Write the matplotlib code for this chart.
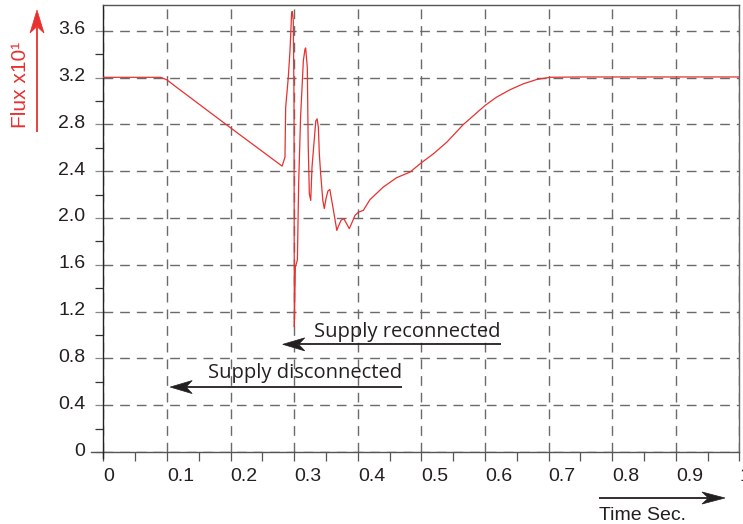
import numpy as np
import matplotlib
matplotlib.use("Agg")
import matplotlib.pyplot as plt
import matplotlib.transforms as mtransforms
from matplotlib.patches import Polygon
from matplotlib.lines import Line2D

# ---------------- data ----------------
time = [0.0, 0.09, 0.1, 0.115, 0.2, 0.281, 0.2855, 0.2866, 0.2907, 0.2934, 0.296, 0.297,
        0.2986, 0.2997, 0.3, 0.3002, 0.3018, 0.305, 0.307, 0.31, 0.3144, 0.317, 0.318,
        0.3206, 0.322, 0.3238, 0.326, 0.328, 0.331, 0.334, 0.336, 0.338, 0.3395, 0.3416,
        0.345, 0.3473, 0.35, 0.353, 0.356, 0.359, 0.3626, 0.367, 0.369, 0.3736, 0.378,
        0.3825, 0.3866, 0.390, 0.3956, 0.401, 0.4087, 0.419, 0.44, 0.461, 0.482, 0.5,
        0.519, 0.54, 0.566, 0.582, 0.6, 0.618, 0.639, 0.66, 0.681, 0.702, 0.75, 0.85, 1.0]
flux = [3.202, 3.202, 3.18, 3.117, 2.77, 2.443, 2.52, 2.946, 3.2, 3.43, 3.757, 3.765,
        3.686, 3.0, 1.86, 1.069, 1.58, 1.64, 2.29, 2.86, 3.345, 3.444, 3.453,
        3.288, 2.634, 2.207, 2.15, 2.434, 2.634, 2.83, 2.847, 2.776, 2.549, 2.378,
        2.15, 2.08, 2.165, 2.23, 2.244, 2.15, 2.037, 1.894, 1.922, 1.98, 1.994,
        1.95, 1.909, 1.95, 2.022, 2.05, 2.065, 2.156, 2.264, 2.344, 2.392, 2.472,
        2.549, 2.648, 2.799, 2.875, 2.961, 3.032, 3.095, 3.146, 3.183, 3.202, 3.205, 3.205, 3.205]

x_ticks = [0.0, 0.1, 0.2, 0.3, 0.4, 0.5, 0.6, 0.7, 0.8, 0.9, 1.0]
x_tick_labels = ["0", "0.1", "0.2", "0.3", "0.4", "0.5", "0.6", "0.7", "0.8", "0.9", "1"]
y_ticks = [0.0, 0.4, 0.8, 1.2, 1.6, 2.0, 2.4, 2.8, 3.2, 3.6]
y_tick_labels = ["0", "0.4", "0.8", "1.2", "1.6", "2.0", "2.4", "2.8", "3.2", "3.6"]

RED = "#e8302f"
INK = "#231f20"
W_PX, H_PX = 743, 524

fig = plt.figure(figsize=(W_PX / 100, H_PX / 100), dpi=100)
ax = fig.add_axes([103.4 / W_PX, 72 / H_PX, 636 / W_PX, 447 / H_PX])

ax.plot(time, flux, color=RED, lw=0.9, zorder=3)

ax.set_xlim(0, 1.0)
ax.set_ylim(0, 3.82)

ax.set_xticks(x_ticks)
ax.set_xticklabels(x_tick_labels, ha="left", fontfamily="Liberation Sans", fontsize=14, color=INK)
ax.set_xticks(np.arange(0.05, 1.0, 0.1), minor=True)
ax.set_yticks(y_ticks)
ax.set_yticklabels(y_tick_labels, fontfamily="Liberation Sans", fontsize=14, color=INK)
ax.set_yticks(np.arange(0.2, 3.8, 0.4), minor=True)

ax.tick_params(axis="x", which="both", direction="out", length=6.5, width=0.9,
               color="#555555", pad=5)
ax.tick_params(axis="y", which="minor", direction="out", length=6, width=0.9,
               color="#333333", pad=7)
ax.tick_params(axis="y", which="major", direction="out", length=6, width=0.9,
               color="#888888", pad=7)

for lab in ax.get_yticklabels():
    lab.set_transform(lab.get_transform() + mtransforms.ScaledTranslation(0, 3 / 100, fig.dpi_scale_trans))

ax.grid(True, which="major", linestyle=(0, (7, 5)), color="#6a6a6a", lw=1.0, zorder=1)

for side in ["left", "bottom", "right", "top"]:
    ax.spines[side].set_linewidth(1.0)
ax.spines["left"].set_color("#222222")
ax.spines["bottom"].set_color("#555555")
ax.spines["right"].set_color("#666666")
ax.spines["top"].set_color("#555555")

# small overshoots of the axis lines at the lower-left corner
fig.add_artist(Line2D([91 / W_PX, 103.4 / W_PX], [72 / H_PX, 72 / H_PX],
                      color="#555555", lw=1.0, transform=fig.transFigure))
fig.add_artist(Line2D([103.4 / W_PX, 103.4 / W_PX], [66 / H_PX, 72 / H_PX],
                      color="#222222", lw=1.0, transform=fig.transFigure))


def stealth(p_tail, p_tip, color, lw=1.3, L=22, W=13):
    """Draw a line with a concave arrowhead; points given in pixels (display)."""
    p0 = np.asarray(p_tail, float)
    p1 = np.asarray(p_tip, float)
    d = (p1 - p0) / np.hypot(*(p1 - p0))
    n = np.array([-d[1], d[0]])
    notch = p1 - 0.72 * L * d
    verts = np.array([p1, p1 - L * d + W / 2 * n, notch, p1 - L * d - W / 2 * n])
    sc = np.array([W_PX, H_PX])
    fig.add_artist(Line2D([p0[0] / W_PX, notch[0] / W_PX],
                          [p0[1] / H_PX, notch[1] / H_PX],
                          color=color, lw=lw, transform=fig.transFigure, solid_capstyle="butt"))
    fig.add_artist(Polygon(verts / sc, closed=True, facecolor=color, edgecolor=color,
                           lw=0.5, transform=fig.transFigure))


def data_px(x, y):
    return ax.transData.transform((x, y))


# annotations inside the plot
stealth(data_px(0.625, 0.92), data_px(0.282, 0.92), INK, lw=1.3, L=22, W=13)
ax.text(0.331, 0.983, "Supply reconnected", ha="left", va="baseline",
        fontfamily="Open Sans", fontsize=14.5, color=INK)
stealth(data_px(0.469, 0.555), data_px(0.105, 0.555), INK, lw=1.3, L=22, W=13)
ax.text(0.1645, 0.632, "Supply disconnected", ha="left", va="baseline",
        fontfamily="Open Sans", fontsize=14.5, color=INK)

# y axis label with red arrow
fig.text(20 / W_PX, 1 - 85 / H_PX, "Flux x10¹", rotation=90, ha="center", va="center",
         color=RED, fontfamily="Liberation Sans", fontsize=15)
stealth((37, H_PX - 132), (37, H_PX - 10), RED, lw=1.3, L=23, W=14)

# x axis label with arrow
stealth((599, H_PX - 498), (725, H_PX - 498), INK, lw=1.3, L=23, W=12)
fig.text(599 / W_PX, 1 - 520 / H_PX, "Time Sec.", ha="left", va="baseline",
         color=INK, fontfamily="Liberation Sans", fontsize=14)

fig.savefig("out.png", dpi=100)
